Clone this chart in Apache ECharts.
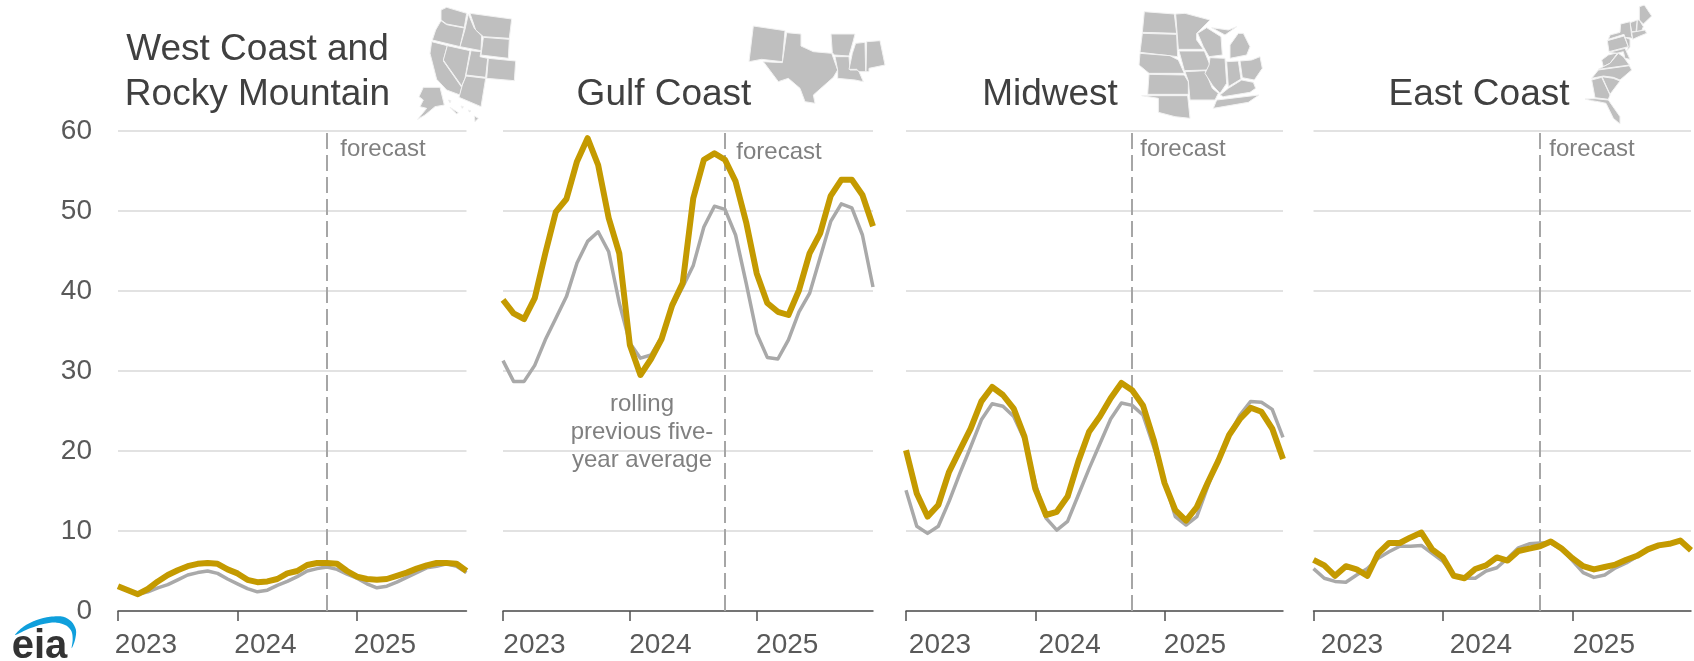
<!DOCTYPE html>
<html><head><meta charset="utf-8">
<style>html,body{margin:0;padding:0;background:#fff}#c{width:1694px;height:661px}</style>
<script src="https://cdn.jsdelivr.net/npm/echarts@6/dist/echarts.min.js"></script>
</head><body><div id="c"></div>
<script>
const years = ['2023','2024','2025'];
const months = ['01','02','03','04','05','06','07','08','09','10','11','12'];
const categories = years.flatMap(y => months.map(m => y + '-' + m));
const forecastStart = '2024-10';
const yTicks = [0,10,20,30,40,50,60];

const westCurrent = [3.1,2.6,2.1,2.75,3.7,4.5,5.1,5.6,5.9,6,5.9,5.2,4.7,3.9,3.6,3.7,4,4.7,5,5.75,6,6,5.9,5,4.3,4,3.9,4,4.4,4.8,5.3,5.7,6,6,5.9,5];
const westAverage = [3,2.5,2.1,2.4,2.9,3.3,3.9,4.5,4.8,5,4.7,4,3.4,2.8,2.4,2.6,3.2,3.7,4.3,5,5.3,5.5,5.2,4.6,4.1,3.4,2.9,3.1,3.6,4.2,4.8,5.4,5.6,5.9,5.6,4.8];
const gulfCurrent = [38.9,37.2,36.5,39.1,44.7,49.9,51.5,56.2,59.1,55.75,49.1,44.7,33.25,29.5,31.5,34,38.2,41,51.6,56.4,57.2,56.4,53.7,48.6,42.2,38.5,37.4,37,40.1,44.7,47.2,51.9,53.9,53.9,52,48.1];
const gulfAverage = [31.3,28.7,28.7,30.7,33.9,36.6,39.3,43.5,46.2,47.4,44.9,38.5,33.5,31.6,32,34.2,38,40.5,43.2,48,50.6,50.2,47,41,34.7,31.7,31.5,33.9,37.4,39.7,44.2,48.7,50.9,50.4,47,40.5];
const midwestCurrent = [20.1,14.7,11.8,13.25,17.4,20.1,22.8,26.2,28,27,25.3,21.8,15.3,12,12.4,14.3,18.7,22.4,24.3,26.6,28.5,27.6,25.7,21.4,16,12.6,11.3,13,16,18.8,22,24,25.4,24.9,22.8,19];
const midwestAverage = [15.1,10.6,9.7,10.6,13.7,17.2,20.5,23.9,25.9,25.6,24.3,21.4,16,11.6,10.1,11.2,14.5,17.8,20.9,24,26,25.7,24.5,20.5,16.2,11.8,10.75,11.8,15.5,19,22,24.5,26.2,26.1,25.2,21.7];
const eastCurrent = [6.4,5.7,4.4,5.6,5.2,4.4,7.2,8.5,8.5,9.2,9.8,7.7,6.7,4.4,4.1,5.25,5.7,6.7,6.3,7.5,7.8,8.1,8.7,7.8,6.6,5.6,5.2,5.5,5.8,6.4,6.9,7.7,8.2,8.4,8.8,7.6];
const eastAverage = [5.3,4.1,3.7,3.6,4.5,5.3,6.6,7.4,8.1,8.1,8.2,7.2,6.2,4.5,4.1,4.1,5,5.4,6.6,7.9,8.4,8.5,8.5,7.7,6.3,4.8,4.2,4.5,5.4,6,6.8,7.6,8.3,8.4,8.7,7.6];

const panels = [
  {left:118, right:466.5, cur:westCurrent, avg:westAverage, fx:340, fy:149, pad:[56,56,56]},
  {left:503, right:873, cur:gulfCurrent, avg:gulfAverage, fx:736, fy:152, pad:[63,61,61]},
  {left:906, right:1283, cur:midwestCurrent, avg:midwestAverage, fx:1140, fy:149, pad:[68,69,61]},
  {left:1313.5, right:1691, cur:eastCurrent, avg:eastAverage, fx:1549, fy:149, pad:[77,76,63]}
];
const GOLD='#C49A00', GRAY='#A9A9A9', TXT='#595959';
const FF='"Liberation Sans",Arial,sans-serif';
const isJan = i => i % 12 === 0;

const grid=[],xAxis=[],yAxis=[],series=[];
panels.forEach((p,i)=>{
  const rich={};
  years.forEach((y,k)=>{rich['y'+y]={padding:[0,0,0,p.pad[k]],fontSize:28,fontFamily:FF,color:TXT};});
  grid.push({left:p.left,top:131,width:p.right-p.left,height:480,containLabel:false});
  xAxis.push({type:'category',gridIndex:i,data:categories,boundaryGap:false,
    axisLine:{show:true,onZero:false,lineStyle:{color:'#505050',width:1.5}},
    axisTick:{show:true,length:10,inside:false,interval:(n)=>isJan(n),lineStyle:{color:'#505050',width:1.5}},
    axisLabel:{show:true,interval:(n)=>isJan(n),formatter:v=>'{y'+v.slice(0,4)+'|'+v.slice(0,4)+'}',align:'center',margin:20,
      fontSize:28,fontFamily:FF,color:TXT,rich},
    splitLine:{show:false}});
  yAxis.push({type:'value',gridIndex:i,min:0,max:60,interval:10,
    axisLine:{show:false},axisTick:{show:false},
    axisLabel:{show:i===0,fontSize:28,fontFamily:FF,color:TXT,margin:26},
    splitLine:{show:true,lineStyle:{color:'#D9D9D9',width:1.5}}});
  series.push({name:'avg'+i,type:'line',xAxisIndex:i,yAxisIndex:i,data:p.avg,showSymbol:false,symbol:'none',smooth:false,z:3,
    lineStyle:{color:GRAY,width:3.5,join:'round'},
    markLine:{silent:true,symbol:'none',animation:false,z:2,label:{show:false},
      lineStyle:{color:'#A6A6A6',type:[16,6],width:2},data:[{xAxis:forecastStart}]}});
  series.push({name:'cur'+i,type:'line',xAxisIndex:i,yAxisIndex:i,data:p.cur,showSymbol:false,symbol:'none',smooth:false,z:4,
    lineStyle:{color:GOLD,width:6,join:'round'}});
});

/* decorative region maps: state outlines in reference-zoom pixels */
const westMap=[[[78,30],[95,22],[155,40],[148,82],[95,72],[78,60]],[[78,62],[95,74],[148,84],[135,140],[52,120],[62,90]],[[50,125],[97,137],[85,183],[140,262],[135,285],[95,270],[65,238],[45,160]],[[97,137],[165,152],[150,235],[140,258],[85,180]],[[160,42],[178,85],[200,108],[198,152],[135,140],[150,88]],[[165,40],[290,57],[283,115],[205,110],[182,90]],[[205,112],[283,118],[280,175],[198,165]],[[168,152],[198,155],[195,170],[218,175],[212,232],[153,225]],[[220,175],[302,183],[298,242],[215,235]],[[153,228],[212,235],[198,320],[132,292],[142,255]],[[25,262],[75,262],[88,315],[60,320],[30,345],[8,358],[35,325],[15,320],[25,300],[12,290]],[[105,322],[130,338],[125,342]],[[178,348],[190,355],[180,365]],[[100,300],[108,302],[105,308]],[[138,318],[145,320],[142,325]],[[160,330],[168,333],[163,336]]];
const gulfMap=[[[25,18],[120,32],[112,125],[50,118],[12,125]],[[125,38],[168,42],[168,78],[205,95],[260,100],[278,150],[265,172],[205,225],[210,250],[180,245],[165,205],[130,175],[100,185],[55,125],[112,128]],[[258,42],[330,42],[325,62],[312,108],[268,105],[262,98]],[[270,110],[312,110],[315,150],[340,150],[355,185],[330,180],[278,175],[278,150]],[[332,70],[360,67],[362,155],[342,155],[335,148],[312,148],[322,100]],[[365,65],[405,62],[420,135],[372,145],[372,155],[363,155]]];
const midwestMap=[[[28,20],[118,27],[125,85],[22,82]],[[22,85],[125,88],[128,155],[15,142]],[[15,145],[105,152],[130,165],[148,205],[42,205],[12,180]],[[42,208],[148,210],[160,230],[160,268],[38,268]],[[20,272],[158,272],[165,340],[120,335],[70,322],[70,280]],[[122,27],[150,25],[225,45],[185,85],[185,105],[205,133],[130,133]],[[132,138],[208,138],[225,180],[215,195],[148,197]],[[150,200],[210,197],[232,250],[250,265],[240,285],[165,285],[160,228]],[[188,85],[215,68],[258,95],[262,150],[222,155],[205,125]],[[225,158],[270,160],[275,235],[255,265],[232,240],[210,205],[222,180]],[[275,170],[310,168],[318,222],[280,245]],[[315,168],[350,165],[375,155],[382,190],[358,225],[322,218]],[[285,120],[310,85],[325,85],[345,125],[335,150],[285,160]],[[230,68],[280,75],[305,65],[270,90]],[[255,270],[280,250],[320,225],[355,232],[362,250],[345,262],[265,275]],[[245,285],[372,270],[340,292],[235,310]]];
const eastMap=[[[178,20],[193,15],[215,48],[190,72],[178,60]],[[150,68],[172,60],[168,95],[155,95]],[[172,60],[178,60],[190,80],[185,92],[170,95]],[[90,105],[120,97],[122,72],[150,65],[155,108],[160,115],[135,112],[132,103],[85,118]],[[155,97],[195,90],[200,100],[180,108],[158,118]],[[82,122],[132,108],[145,140],[87,155]],[[135,112],[150,118],[150,142],[140,152],[145,140]],[[87,157],[135,145],[150,178],[135,175],[130,155],[110,160]],[[65,180],[85,165],[105,160],[112,160],[90,190],[70,200]],[[55,208],[70,200],[90,190],[115,160],[130,170],[148,195]],[[35,235],[55,210],[148,197],[155,210],[120,240],[100,232],[70,228]],[[66,230],[100,235],[120,243],[90,283]],[[35,240],[65,232],[90,285],[85,298],[45,293]],[[15,297],[45,296],[85,300],[120,350],[120,372],[100,355],[78,310],[55,305],[35,302]]];
const logoArc=[[45,90],[70,65],[110,45],[150,35],[190,35],[215,50],[228,75],[225,105],[215,130],[218,105],[215,80],[200,62],[170,53],[130,57],[90,70]];

const graphic=[];
function addMap(shapes,ox,oy){shapes.forEach(s=>graphic.push({type:'polygon',silent:true,z:1,
  shape:{points:s.map(([x,y])=>[ox+x/3,oy+y/3])},style:{fill:'#BFBFBF',stroke:'#F2F2F2',lineWidth:1}}));}
addMap(westMap,415,0);addMap(gulfMap,745,20);addMap(midwestMap,1135,5);addMap(eastMap,1580,0);
function addText(text,x,y,size,fill,weight){graphic.push({type:'text',silent:true,z:10,style:{text,x,y,fill,
  font:(weight||'normal')+' '+size+'px '+FF,textAlign:'center',textVerticalAlign:'middle'}});}
addText('West Coast and',257.5,50,37,'#404040');
addText('Rocky Mountain',257.5,95,37,'#404040');
addText('Gulf Coast',664,95,37,'#404040');
addText('Midwest',1050,95,37,'#404040');
addText('East Coast',1479,95,37,'#404040');
panels.forEach(p=>addText('forecast',p.fx+43,p.fy,24,'#808080'));
addText('rolling',642,404,24,'#808080');
addText('previous five-',642,432,24,'#808080');
addText('year average',642,460,24,'#808080');
graphic.push({type:'polygon',silent:true,z:11,shape:{points:logoArc.map(([x,y])=>[x/3,605+y/3]),smooth:0.3},style:{fill:'#0F9FDC'}});
addText('eia',39.5,647,40,'#333333','bold');

const chart=echarts.init(document.getElementById('c'),null,{renderer:'canvas',width:1694,height:661});
chart.setOption({animation:false,backgroundColor:'#fff',grid,xAxis,yAxis,series,graphic,tooltip:{show:false},legend:{show:false}});
</script></body></html>
